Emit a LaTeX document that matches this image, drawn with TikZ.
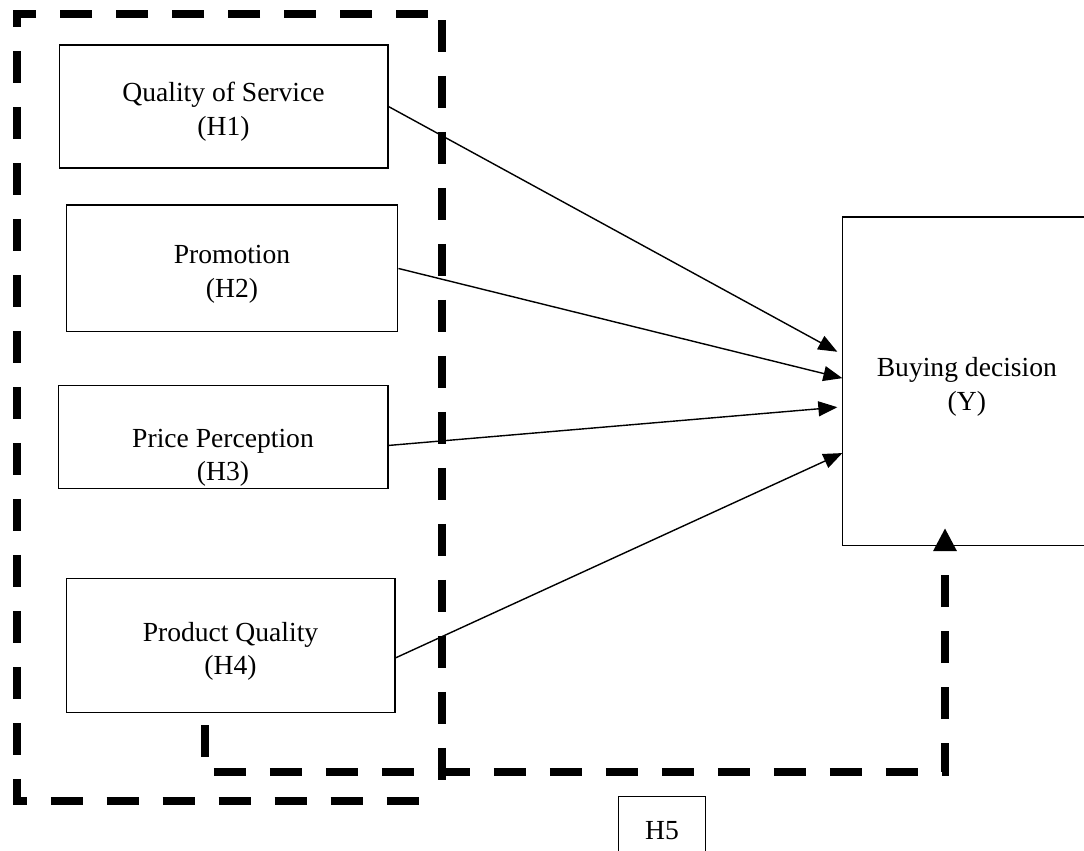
\documentclass[tikz,border=0pt]{standalone}
\usepackage{fontspec}
\setmainfont{Liberation Serif}
\usetikzlibrary{arrows.meta,calc}
\newcommand{\boxstrut}[1][17pt]{\rule{0pt}{#1}}

\begin{document}
\begin{tikzpicture}[x=0.02cm, y=-0.02cm, node distance=32mm, hbox/.style={rectangle, draw, line width=0.6pt, align=center, font=\fontsize{15.7}{19}\selectfont}, link/.style={-{Triangle[length=3.8mm, width=3mm]}, line width=0.8pt}, bigdash/.style={line width=1.5mm, dash pattern=on 6.4mm off 4.8mm}]

  \useasboundingbox (0,0) rectangle (1084,850);

  \node[hbox, minimum width=65.8mm, minimum height=24.6mm] (h1) at (223.5,106.5) {\boxstrut Quality of Service\\(H1)};
  \node[hbox, below of=h1, node distance=32.4mm, xshift=1.7mm, minimum width=66.4mm, minimum height=25.4mm] (h2) {\boxstrut Promotion\\(H2)};
  \node[hbox, below of=h2, node distance=33.8mm, xshift=-1.8mm, minimum width=66mm, minimum height=20.6mm, inner ysep=0pt] (h3) {\boxstrut[33.5pt]Price Perception\\(H3)};
  \node[hbox, below of=h3, node distance=41.7mm, xshift=1.5mm, minimum width=65.8mm, minimum height=26.8mm] (h4) {\boxstrut Product Quality\\(H4)};
  \node[hbox, right of=h3, node distance=148.8mm, yshift=11.2mm, minimum width=49.6mm, minimum height=65.8mm] (buy) {\boxstrut Buying decision\\(Y)};
  \node[hbox, minimum width=17.4mm, minimum height=12mm] (h5) at (662,826) {\boxstrut[15pt]H5};

  \coordinate (h5start) at (205,725);
  \coordinate (h5turn) at (945,772);
  \coordinate (h5tip) at (945,528);

  % dashed frame round H1--H4
  \draw[bigdash] (428,14) -- (17,14) -- (17,801) -- (440,801);
  \draw[bigdash] (442,20) -- (442,780);

  \draw[link] (h1.east) -- ($(buy.north west)!0.41!(buy.south west)+(-5,0)$);
  \draw[link] (h2.east) -- ($(buy.north west)!0.49!(buy.south west)$);
  \draw[link] ($(h3.east)+(0,8)$) -- ($(buy.north west)!0.578!(buy.south west)+(-5,0)$);
  \draw[link] ($(h4.east)+(0,12)$) -- ($(buy.north west)!0.717!(buy.south west)$);
  \draw[bigdash, -{Triangle[length=4.6mm, width=4.4mm]}] (h5start) |- (h5turn) -- (h5tip);
\end{tikzpicture}
\end{document}
